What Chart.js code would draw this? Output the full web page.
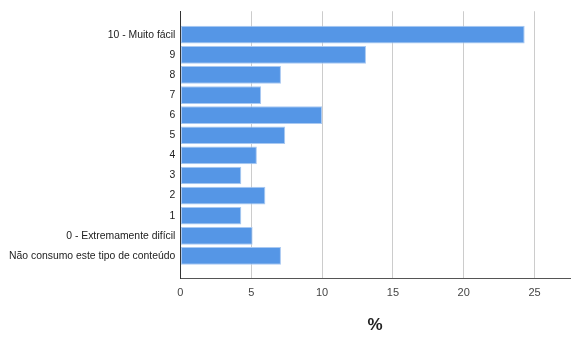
<!DOCTYPE html>
<html>
<head>
<meta charset="utf-8">
<style>
  html, body { margin: 0; padding: 0; background: #fff; }
  #wrap { width: 572px; height: 338px; }
</style>
<script src="https://cdn.jsdelivr.net/npm/chart.js@4/dist/chart.umd.min.js"></script>
</head>
<body>
<div id="wrap"><canvas id="c" width="572" height="338"></canvas></div>
<script>
// Response categories, from top to bottom
const categories = [
  "10 - Muito fácil",
  "9",
  "8",
  "7",
  "6",
  "5",
  "4",
  "3",
  "2",
  "1",
  "0 - Extremamente difícil",
  "Não consumo este tipo de conteúdo"
];

// Share of respondents (%) per category
const percentages = [24.3, 13.1, 7.1, 5.7, 10.0, 7.4, 5.4, 4.3, 6.0, 4.3, 5.1, 7.1];

// Value axis ticks
const xTicks = [0, 5, 10, 15, 20, 25];

const points = percentages.map((v, i) => ({ x: v, y: i }));

const labelFont = 'Liberation Sans, Arial, sans-serif';

new Chart(document.getElementById('c'), {
  type: 'bar',
  data: {
    datasets: [{
      data: points,
      backgroundColor: '#5596e6',
      borderColor: '#a9c9f2',
      borderWidth: 1,
      borderSkipped: false,
      barPercentage: 0.88,
      categoryPercentage: 1.0
    }]
  },
  options: {
    indexAxis: 'y',
    responsive: false,
    animation: false,
    layout: { padding: { top: 6, right: 2, left: 4, bottom: 2 } },
    plugins: {
      legend: { display: false },
      tooltip: { enabled: false }
    },
    scales: {
      x: {
        type: 'linear',
        min: 0,
        max: 27.5,
        afterBuildTicks: (scale) => { scale.ticks = xTicks.map(v => ({ value: v })); },
        grid: { color: '#cccccc', drawTicks: false, lineWidth: 1 },
        border: { display: true, color: '#555555', width: 1 },
        ticks: {
          color: '#444444',
          padding: 8,
          font: { family: labelFont, size: 11 }
        },
        title: {
          display: true,
          text: '%',
          color: '#222222',
          font: { family: labelFont, size: 17, weight: 'bold' },
          padding: { top: 8, bottom: 0 }
        }
      },
      y: {
        type: 'linear',
        reverse: true,
        offset: false,
        min: -1.165,
        max: categories.length - 1 + 1.115,
        afterBuildTicks: (scale) => { scale.ticks = categories.map((_, i) => ({ value: i })); },
        grid: { display: false, drawTicks: false },
        border: { display: true, color: '#333333', width: 1 },
        ticks: {
          color: '#222222',
          padding: 5,
          autoSkip: false,
          font: { family: labelFont, size: 10.4 },
          callback: (v) => categories[v]
        }
      }
    }
  }
});
</script>
</body>
</html>
